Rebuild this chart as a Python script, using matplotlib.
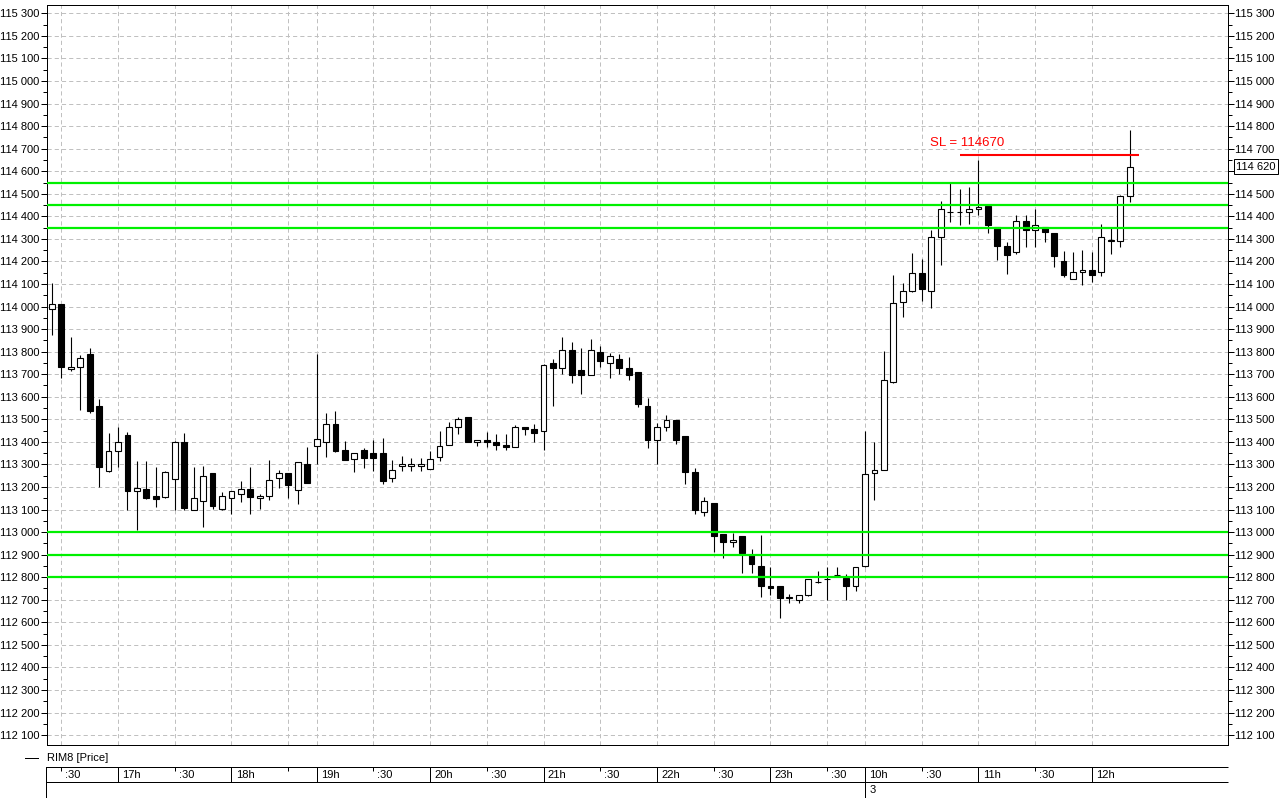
import matplotlib
matplotlib.use("Agg")
import matplotlib.pyplot as plt
from matplotlib.lines import Line2D
import matplotlib.transforms as mtransforms
from matplotlib.ticker import MultipleLocator, FuncFormatter
import numpy as np
import pandas as pd

# ---------------- data ----------------
sessions = [("16:25", "18:40"), ("19:00", "23:45"), ("10:00", "12:20")]
day_break_label = "3"

open_ = [113990, 114010, 113725, 113730, 113790, 113560, 113270, 113360, 113430, 113180,
         113190, 113160, 113155, 113237, 113400, 113100, 113140, 113260, 113101, 113150,
         113171, 113189, 113150, 113158, 113238, 113260, 113188, 113300, 113380, 113400,
         113481, 113363, 113322, 113363, 113349, 113349, 113238, 113291, 113291, 113291,
         113279, 113331, 113388, 113468, 113512, 113400, 113410, 113401, 113388, 113378,
         113468, 113459, 113449, 113751, 113727, 113806, 113719, 113696, 113798, 113750,
         113767, 113727, 113711, 113561, 113409, 113466, 113498, 113427, 113268, 113091,
         113131, 112991, 112958, 112982, 112898, 112848, 112761, 112761, 112709, 112697,
         112719, 112778, 112790, 112808, 112795, 112759, 112848, 113260, 113277, 113665,
         114021, 114069, 114150, 114071, 114310, 114420, 114420, 114420, 114434, 114448,
         114351, 114270, 114243, 114381, 114341, 114351, 114325, 114204, 114124, 114151,
         114164, 114151, 114292, 114292, 114492]
high = [114105, 114012, 113865, 113787, 113817, 113590, 113440, 113465, 113445, 113317,
        113317, 113287, 113270, 113403, 113438, 113287, 113295, 113262, 113177, 113182,
        113225, 113287, 113167, 113319, 113275, 113262, 113310, 113377, 113790, 113527,
        113536, 113406, 113350, 113371, 113408, 113417, 113319, 113337, 113328, 113328,
        113359, 113447, 113486, 113509, 113512, 113410, 113444, 113437, 113437, 113475,
        113468, 113478, 113745, 113767, 113865, 113841, 113816, 113856, 113825, 113792,
        113790, 113778, 113712, 113593, 113484, 113517, 113499, 113428, 113286, 113154,
        113131, 112992, 112995, 112982, 112925, 112986, 112843, 112762, 112725, 112720,
        112793, 112827, 112843, 112843, 112814, 112847, 113448, 113398, 113801, 114139,
        114106, 114239, 114209, 114339, 114469, 114550, 114519, 114530, 114649, 114450,
        114352, 114288, 114407, 114407, 114431, 114352, 114326, 114245, 114241, 114250,
        114241, 114368, 114354, 114493, 114781]
low = [113875, 113685, 113715, 113540, 113530, 113200, 113268, 113290, 113100, 113010,
       113148, 113110, 113150, 113100, 113100, 113097, 113023, 113104, 113100, 113080,
       113134, 113080, 113102, 113143, 113194, 113152, 113123, 113218, 113304, 113334,
       113353, 113320, 113265, 113282, 113270, 113214, 113223, 113273, 113273, 113273,
       113278, 113313, 113388, 113433, 113398, 113381, 113379, 113365, 113365, 113378,
       113431, 113401, 113363, 113561, 113701, 113661, 113611, 113695, 113733, 113682,
       113701, 113673, 113555, 113372, 113300, 113447, 113392, 113215, 113082, 113073,
       112913, 112883, 112932, 112818, 112818, 112714, 112721, 112621, 112684, 112684,
       112718, 112775, 112700, 112806, 112700, 112740, 112846, 113143, 113277, 113659,
       113954, 114065, 114025, 113994, 114184, 114375, 114361, 114366, 114406, 114326,
       114205, 114143, 114233, 114264, 114264, 114286, 114176, 114129, 114123, 114096,
       114111, 114136, 114233, 114266, 114464]
close = [114010, 113730, 113730, 113770, 113535, 113290, 113360, 113400, 113180, 113195,
         113150, 113148, 113268, 113400, 113107, 113150, 113250, 113117, 113158, 113180,
         113189, 113156, 113158, 113229, 113260, 113210, 113309, 113219, 113412, 113481,
         113360, 113321, 113349, 113329, 113330, 113228, 113276, 113300, 113300, 113300,
         113322, 113380, 113468, 113500, 113400, 113409, 113400, 113385, 113376, 113466,
         113456, 113440, 113742, 113726, 113806, 113696, 113696, 113806, 113757, 113779,
         113726, 113695, 113568, 113409, 113466, 113499, 113408, 113267, 113100, 113138,
         112981, 112958, 112967, 112908, 112857, 112759, 112750, 112709, 112710, 112719,
         112792, 112779, 112790, 112808, 112759, 112846, 113259, 113277, 113674, 114015,
         114071, 114150, 114080, 114310, 114434, 114421, 114420, 114434, 114442, 114361,
         114268, 114229, 114381, 114341, 114363, 114330, 114222, 114142, 114151, 114164,
         114141, 114310, 114292, 114492, 114620]

levels_green = [114550, 114450, 114350, 113000, 112900, 112800]
sl_value = 114670
sl_label = "SL = 114670"
sl_span = (96, 115)
sl_text_pos = (92.9, 114725)
last_price = 114620
legend_label = "RIM8 [Price]"

# ---------------- setup ----------------
plt.rcParams['font.family'] = ['Liberation Sans', 'DejaVu Sans']
plt.rcParams['font.size'] = 8
plt.rcParams['lines.scale_dashes'] = False

W, H = 1279, 798
fig = plt.figure(figsize=(W / 100, H / 100), dpi=100)
fig.patch.set_facecolor('white')

PX = 0.72  # one pixel in points
L, R, T, B = 47, 1228, 5, 745
ax = fig.add_axes([L / W, 1 - B / H, (R - L) / W, (B - T) / H])
XMIN, XMAX = -0.51, 124.39
ax.set_xlim(XMIN, XMAX)
ax.set_ylim(112056, 115337)

# times
times = []
for s, e in sessions:
    rng = pd.date_range("2000-01-01 " + s, "2000-01-01 " + e, freq="5min")
    times.extend([(t.hour, t.minute) for t in rng])
n = len(times)
o = np.array(open_[:n], float)
h = np.array(high[:n], float)
l = np.array(low[:n], float)
c = np.array(close[:n], float)
x = np.arange(n)

grid_idx = [i for i, (hh, mm) in enumerate(times) if mm in (0, 30)]
day_break = [i for i in range(1, n) if times[i][0] < times[i - 1][0]]

# grid
dash = (0, (3.0, 2.2))
ax.yaxis.set_major_locator(MultipleLocator(100))
ax.yaxis.set_minor_locator(MultipleLocator(50))
ax.grid(axis='y', which='major', color='#c0c0c0', lw=PX, ls=dash, zorder=0)
for i in grid_idx:
    ax.axvline(i, color='#c0c0c0', lw=PX, ls=dash, zorder=0)
ax.set_axisbelow(True)

fmt = FuncFormatter(lambda v, p: f"{int(round(v)):,}".replace(",", " "))
ax.yaxis.set_major_formatter(fmt)
ax.tick_params(axis='y', which='major', left=True, right=True, labelleft=True,
               labelright=True, direction='out', length=4.3, width=PX, pad=1, labelsize=8)
ax.tick_params(axis='y', which='minor', left=True, right=True, direction='out',
               length=3, width=PX)
ax.tick_params(axis='x', bottom=False, labelbottom=False)
for sp in ax.spines.values():
    sp.set_linewidth(PX)

# candles
up = c >= o
bot = np.minimum(o, c)
hgt = np.maximum(np.abs(c - o), 1.0)
ax.vlines(x, l, h, color='black', lw=PX * 1.1, zorder=3)
ax.bar(x, hgt, bottom=bot, width=0.62, color=np.where(up, 'white', 'black'),
       edgecolor='black', linewidth=PX * 1.1, zorder=4)

# levels
for lv in levels_green:
    ax.axhline(lv, color='#00f000', lw=1.6, zorder=5)
ax.hlines(sl_value, sl_span[0], sl_span[1], color='#ff0000', lw=1.5, zorder=5)
ax.text(sl_text_pos[0], sl_text_pos[1], sl_label, color='#ff0000', fontsize=9.5,
        ha='left', va='center', zorder=6)

# last price box (covers the right-hand tick label beneath it)
trans = mtransforms.blended_transform_factory(ax.transAxes, ax.transData)
ax.text(1 + 8.3 / (R - L), last_price, fmt(last_price, None), transform=trans,
        ha='left', va='center', fontsize=8, clip_on=False, zorder=7,
        bbox=dict(boxstyle='square,pad=0.2', fc='white', ec='black', lw=PX))
fig.canvas.draw()
for tk in ax.yaxis.get_major_ticks():
    if abs(tk.get_loc() - 114600) < 1:
        tk.label2.set_visible(False)

# legend
yl = 1 - 758 / H
fig.add_artist(Line2D([25 / W, 38 / W], [yl, yl], color='black', lw=PX))
fig.text(47 / W, yl, legend_label, ha='left', va='center', fontsize=8)

# time axis
tb, tt = 797.6, 767.3
axt = fig.add_axes([46 / W, 1 - tb / H, (R - 46) / W, (tb - tt) / H])
xmin_t = XMIN - 1 / 9.456
axt.set_xlim(xmin_t, XMAX)
axt.set_ylim(0, 2)
axt.axis('off')
for yy in (0, 1, 2):
    axt.plot([xmin_t, XMAX], [yy, yy], color='black', lw=PX, clip_on=False,
             solid_capstyle='butt')
axt.plot([xmin_t, xmin_t], [0, 2], color='black', lw=PX, clip_on=False)
for k, i in enumerate(grid_idx):
    hh, mm = times[i]
    if i in day_break:
        axt.vlines(i, 0, 2, color='black', lw=PX)
        axt.annotate(day_break_label, (i, 0.5), xytext=(3, 0), textcoords='offset points',
                     ha='left', va='center', fontsize=8)
    if mm == 0:
        axt.vlines(i, 1, 2, color='black', lw=PX)
        lab = f"{hh}h"
    else:
        axt.vlines(i, 1.78, 2, color='black', lw=PX)
        lab = ":30"
    nxt = grid_idx[k + 1] if k + 1 < len(grid_idx) else None
    if nxt is not None and nxt - i < 4:
        continue
    axt.annotate(lab, (i, 1.5), xytext=(3, 0), textcoords='offset points',
                 ha='left', va='center', fontsize=8)

fig.savefig("out.png", dpi=100, facecolor='white')
